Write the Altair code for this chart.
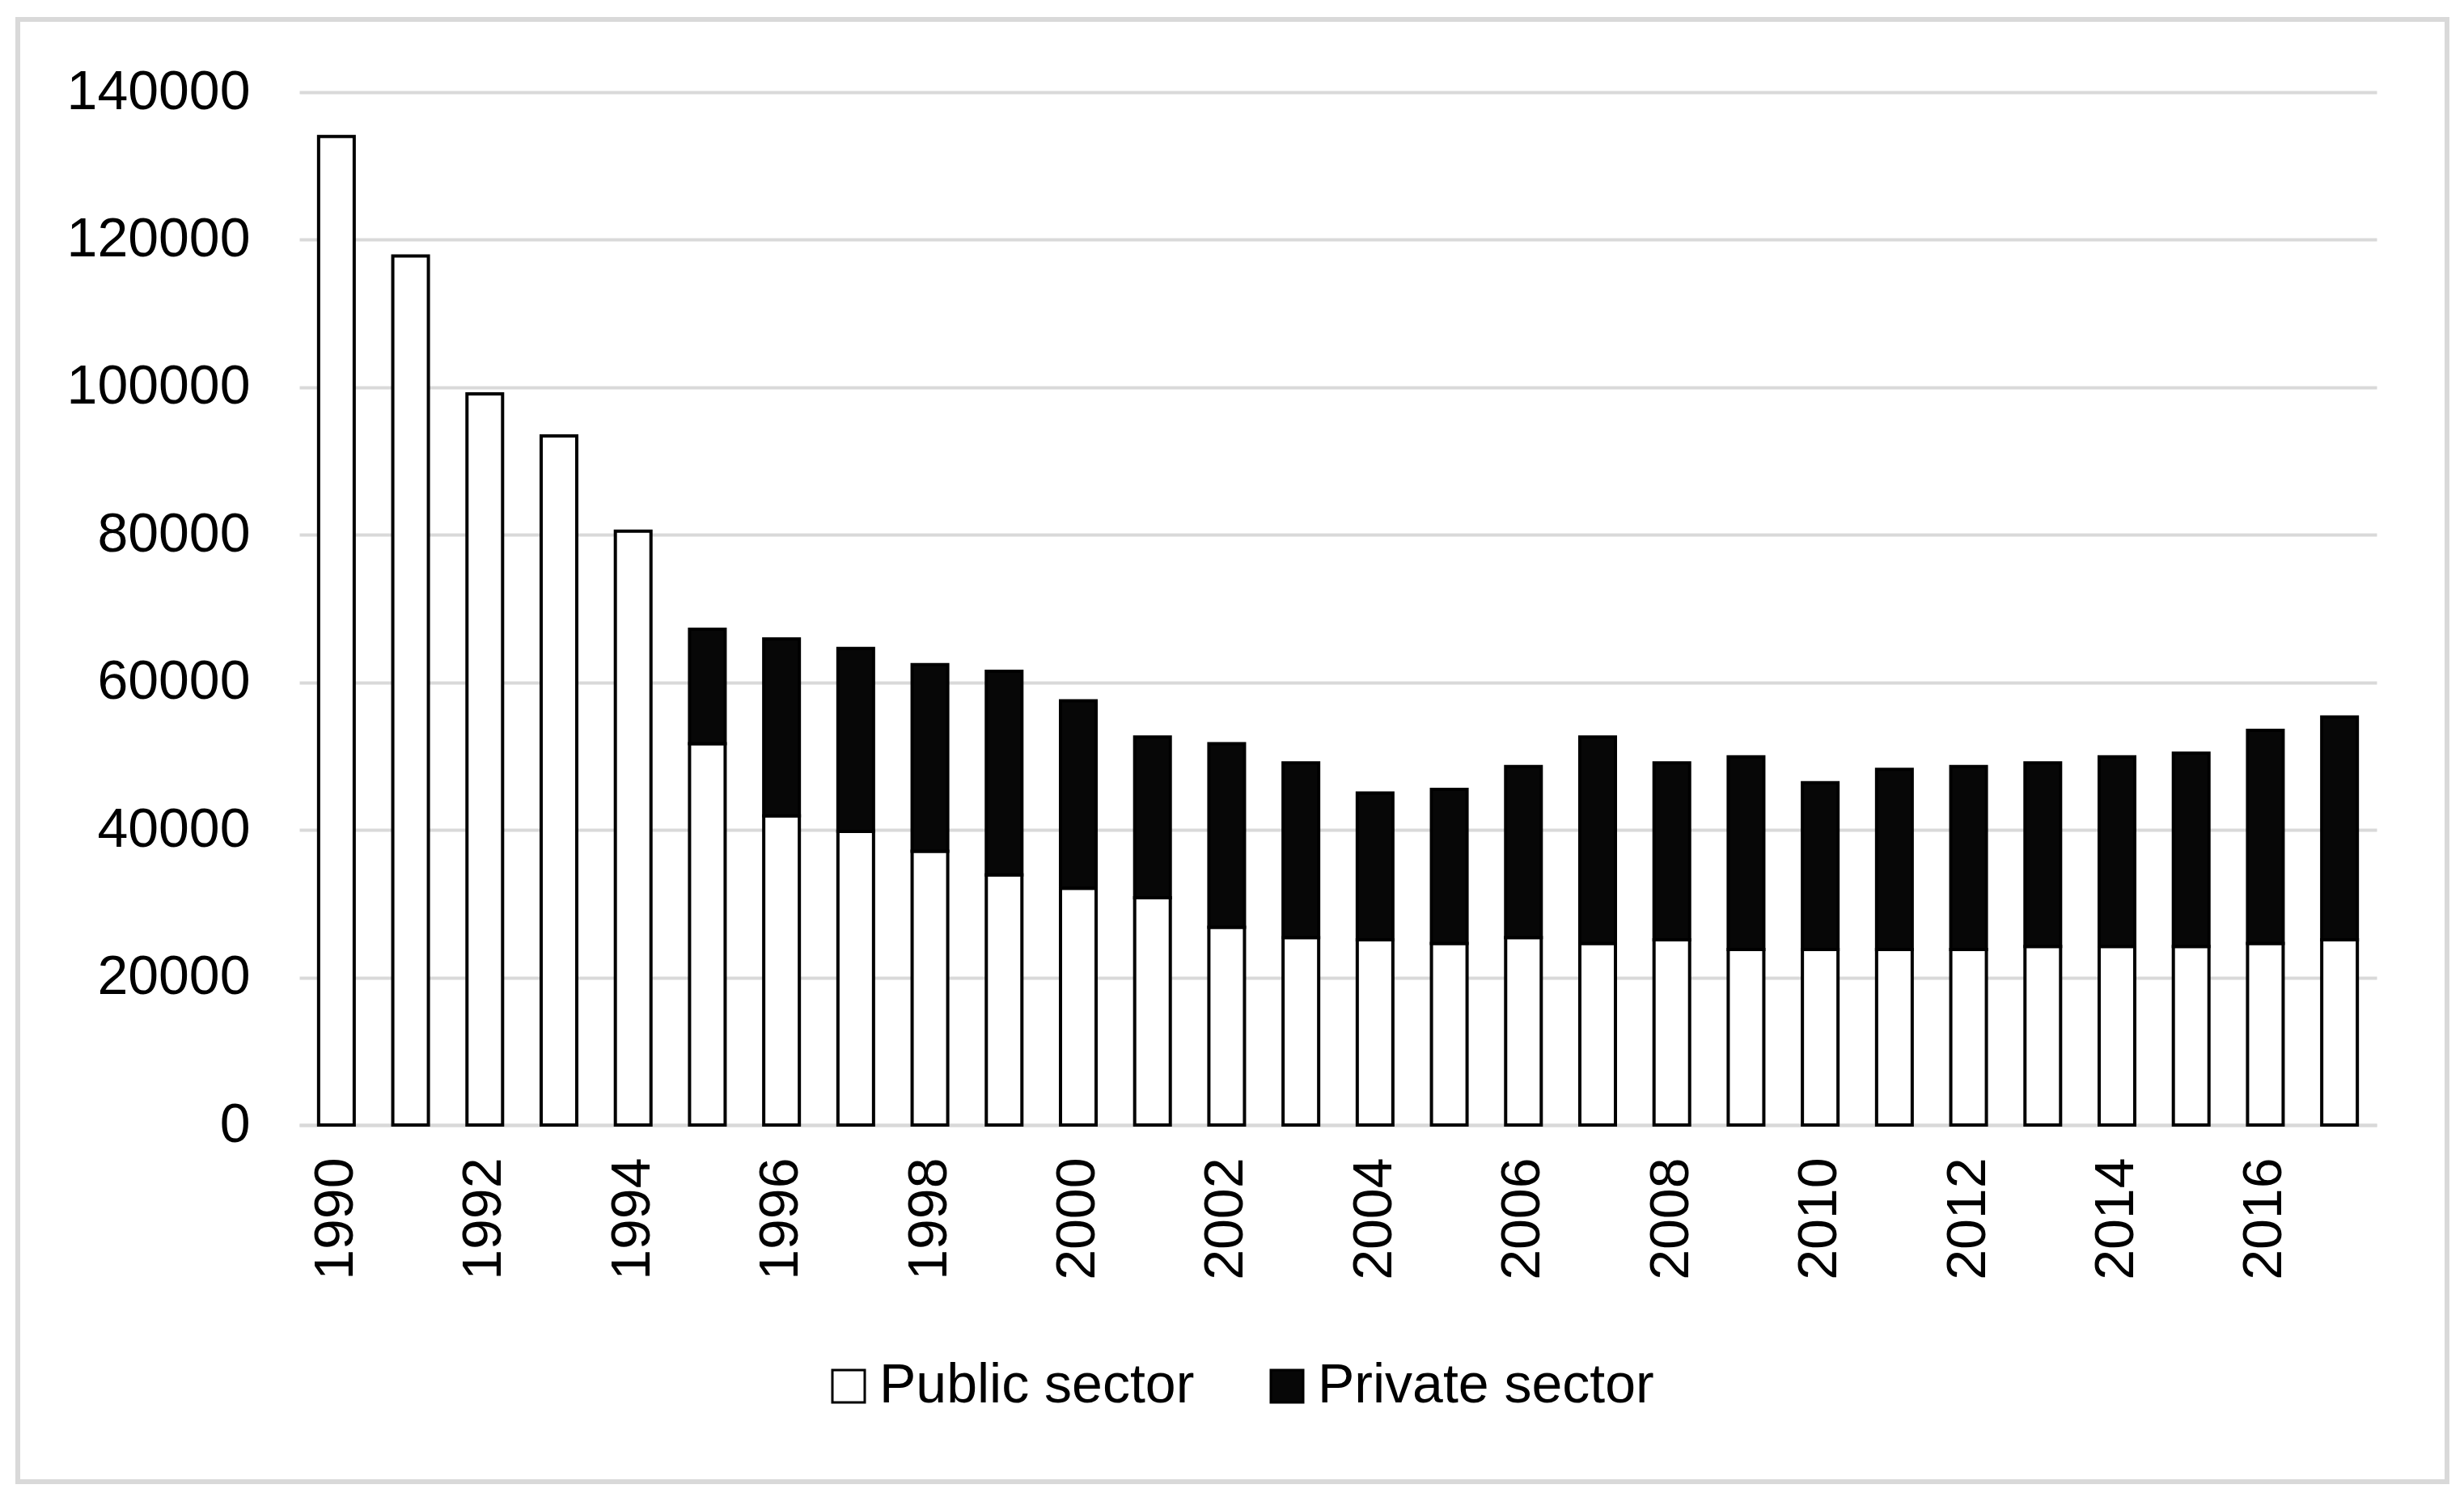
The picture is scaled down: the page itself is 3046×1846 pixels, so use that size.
import altair as alt
import pandas as pd

years = [str(y) for y in range(1990, 2018)]
public_sector = [134000, 117800, 99100, 93400, 80500, 51700, 41900, 39800, 37100, 33900,
                 32100, 30800, 26800, 25400, 25100, 24600, 25400, 24600, 25100, 23800,
                 23800, 23800, 23800, 24200, 24200, 24200, 24600, 25100]
private_sector = [0, 0, 0, 0, 0, 15500, 24000, 24800, 25300, 27600,
                  25400, 21800, 24900, 23700, 19900, 20900, 23200, 28000, 24000, 26100,
                  22600, 24400, 24800, 24900, 25700, 26200, 28900, 30200]
y_ticks = [0, 20000, 40000, 60000, 80000, 100000, 120000, 140000]
x_label_years = [str(y) for y in range(1990, 2018, 2)]
series = ["Public sector", "Private sector"]

rows = []
for yr, pub, prv in zip(years, public_sector, private_sector):
    rows.append({"year": yr, "sector": series[0], "ord": 0, "value": pub})
    if prv > 0:
        rows.append({"year": yr, "sector": series[1], "ord": 1, "value": prv})
df = pd.DataFrame(rows)

W, H = 2568, 1277
FONT = "Liberation Sans"

bars = alt.Chart(df).mark_bar(stroke="black", strokeWidth=4).encode(
    x=alt.X("year:O", sort=years,
            scale=alt.Scale(paddingInner=0.52, paddingOuter=0.26),
            axis=alt.Axis(values=x_label_years, title=None, labelAngle=270,
                          labelAlign="right", labelBaseline="middle",
                          labelFontSize=68, labelFont=FONT, labelColor="black",
                          labelPadding=40, labelLimit=0, ticks=False,
                          domainColor="#d9d9d9", domainWidth=4, grid=False)),
    y=alt.Y("value:Q", stack="zero",
            scale=alt.Scale(domain=[0, 140000], nice=False),
            axis=alt.Axis(values=y_ticks, format="d", title=None, domain=False,
                          ticks=False, labelFontSize=68, labelFont=FONT,
                          labelColor="black", labelPadding=61, labelLimit=0,
                          gridColor="#d9d9d9", gridWidth=4)),
    color=alt.Color("sector:N",
                    scale=alt.Scale(domain=series, range=["#ffffff", "#070707"]),
                    legend=alt.Legend(title=None, orient="none", direction="horizontal",
                                      legendX=645, legendY=1566,
                                      symbolType="square", symbolSize=1600,
                                      symbolStrokeColor="black", symbolStrokeWidth=3,
                                      labelFontSize=68, labelFont=FONT,
                                      labelColor="black", labelOffset=4,
                                      labelLimit=0, columnPadding=80, padding=0)),
    order=alt.Order("ord:Q", sort="ascending"),
)

frame = alt.Chart(alt.Data(values=[{}])).mark_rect(
    fillOpacity=0, stroke="#d9d9d9", strokeWidth=6
).encode(
    x=alt.value(-348), x2=alt.value(2655), y=alt.value(-90), y2=alt.value(1718)
)

chart = alt.layer(bars, frame).properties(
    width=W, height=H,
    autosize=alt.AutoSizeParams(type="none"),
    padding={"left": 362, "top": 106, "right": 100, "bottom": 447},
    background="white",
).configure_view(stroke=None)

chart.save("out.html", embed_options={"renderer": "svg", "actions": False})
